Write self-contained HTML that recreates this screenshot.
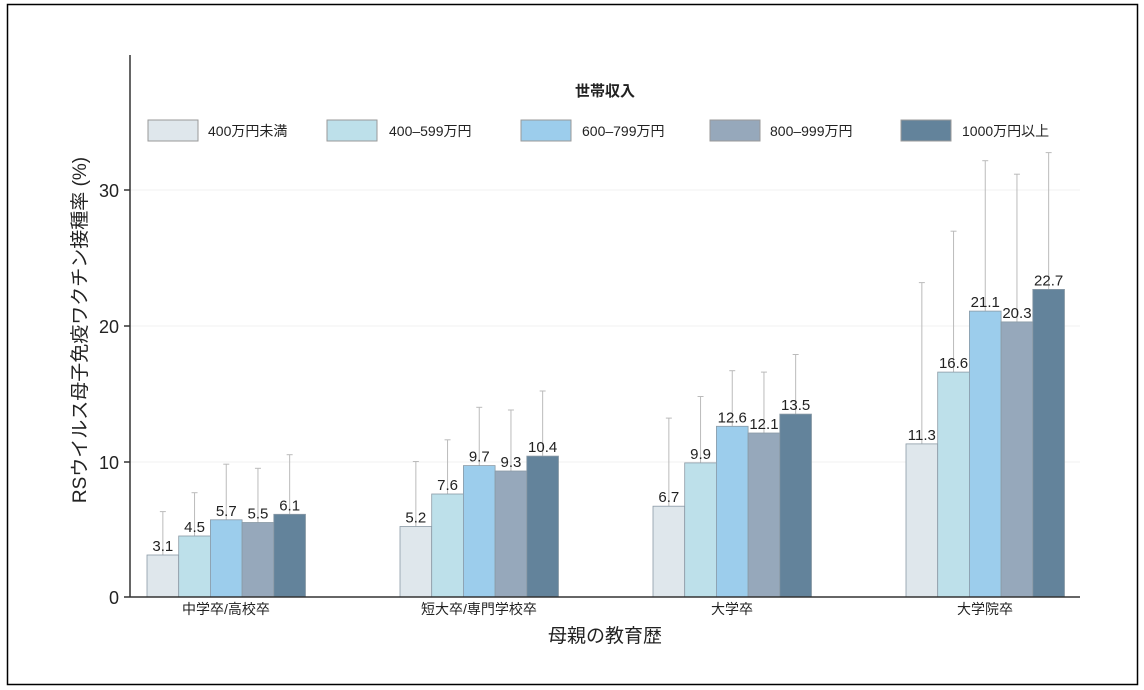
<!DOCTYPE html><html><head><meta charset="utf-8"><style>body{margin:0;background:#fff}svg{display:block;font-family:"Liberation Sans","Noto Sans CJK JP",sans-serif}</style></head><body>
<svg width="1144" height="690" xmlns="http://www.w3.org/2000/svg">
<rect x="7.5" y="4.5" width="1130" height="680" fill="#fff" stroke="#000" stroke-width="1.5"/>
<g stroke="#f0f0f0" stroke-width="1"><line x1="130" x2="1080" y1="190" y2="190"/><line x1="130" x2="1080" y1="326" y2="326"/><line x1="130" x2="1080" y1="462" y2="462"/></g>
<g stroke="#bbb" stroke-width="1">
<line x1="162.85" x2="162.85" y1="511.6" y2="555"/><line x1="159.85" x2="165.85" y1="511.6" y2="511.6"/>
<line x1="194.55" x2="194.55" y1="492.7" y2="536"/><line x1="191.55" x2="197.55" y1="492.7" y2="492.7"/>
<line x1="226.25" x2="226.25" y1="464.2" y2="519.8"/><line x1="223.25" x2="229.25" y1="464.2" y2="464.2"/>
<line x1="257.95" x2="257.95" y1="468.3" y2="522.5"/><line x1="254.95" x2="260.95" y1="468.3" y2="468.3"/>
<line x1="289.65" x2="289.65" y1="454.7" y2="514.3"/><line x1="286.65" x2="292.65" y1="454.7" y2="454.7"/>
<line x1="415.85" x2="415.85" y1="461.5" y2="526.5"/><line x1="412.85" x2="418.85" y1="461.5" y2="461.5"/>
<line x1="447.55" x2="447.55" y1="439.8" y2="494"/><line x1="444.55" x2="450.55" y1="439.8" y2="439.8"/>
<line x1="479.25" x2="479.25" y1="407.3" y2="465.6"/><line x1="476.25" x2="482.25" y1="407.3" y2="407.3"/>
<line x1="510.95" x2="510.95" y1="410" y2="471"/><line x1="507.95" x2="513.95" y1="410" y2="410"/>
<line x1="542.65" x2="542.65" y1="391" y2="456.1"/><line x1="539.65" x2="545.65" y1="391" y2="391"/>
<line x1="668.85" x2="668.85" y1="418.1" y2="506.2"/><line x1="665.85" x2="671.85" y1="418.1" y2="418.1"/>
<line x1="700.55" x2="700.55" y1="396.5" y2="462.9"/><line x1="697.55" x2="703.55" y1="396.5" y2="396.5"/>
<line x1="732.25" x2="732.25" y1="370.7" y2="426.3"/><line x1="729.25" x2="735.25" y1="370.7" y2="370.7"/>
<line x1="763.95" x2="763.95" y1="372.1" y2="433"/><line x1="760.95" x2="766.95" y1="372.1" y2="372.1"/>
<line x1="795.65" x2="795.65" y1="354.5" y2="414.1"/><line x1="792.65" x2="798.65" y1="354.5" y2="354.5"/>
<line x1="921.85" x2="921.85" y1="282.6" y2="443.9"/><line x1="918.85" x2="924.85" y1="282.6" y2="282.6"/>
<line x1="953.55" x2="953.55" y1="231.2" y2="372.1"/><line x1="950.55" x2="956.55" y1="231.2" y2="231.2"/>
<line x1="985.25" x2="985.25" y1="160.7" y2="311.1"/><line x1="982.25" x2="988.25" y1="160.7" y2="160.7"/>
<line x1="1016.95" x2="1016.95" y1="174.2" y2="321.9"/><line x1="1013.95" x2="1019.95" y1="174.2" y2="174.2"/>
<line x1="1048.65" x2="1048.65" y1="152.6" y2="289.4"/><line x1="1045.65" x2="1051.65" y1="152.6" y2="152.6"/>
</g>
<g stroke="#8a9aa6" stroke-width="0.8">
<rect x="147" y="555" width="31.7" height="42" fill="#dfe7ec"/>
<rect x="178.7" y="536" width="31.7" height="61" fill="#bde0ea"/>
<rect x="210.4" y="519.8" width="31.7" height="77.2" fill="#9ccdec"/>
<rect x="242.1" y="522.5" width="31.7" height="74.5" fill="#96a8bb"/>
<rect x="273.8" y="514.3" width="31.7" height="82.7" fill="#63839b"/>
<rect x="400" y="526.5" width="31.7" height="70.5" fill="#dfe7ec"/>
<rect x="431.7" y="494" width="31.7" height="103" fill="#bde0ea"/>
<rect x="463.4" y="465.6" width="31.7" height="131.4" fill="#9ccdec"/>
<rect x="495.1" y="471" width="31.7" height="126" fill="#96a8bb"/>
<rect x="526.8" y="456.1" width="31.7" height="140.9" fill="#63839b"/>
<rect x="653" y="506.2" width="31.7" height="90.8" fill="#dfe7ec"/>
<rect x="684.7" y="462.9" width="31.7" height="134.1" fill="#bde0ea"/>
<rect x="716.4" y="426.3" width="31.7" height="170.7" fill="#9ccdec"/>
<rect x="748.1" y="433" width="31.7" height="164" fill="#96a8bb"/>
<rect x="779.8" y="414.1" width="31.7" height="182.9" fill="#63839b"/>
<rect x="906" y="443.9" width="31.7" height="153.1" fill="#dfe7ec"/>
<rect x="937.7" y="372.1" width="31.7" height="224.9" fill="#bde0ea"/>
<rect x="969.4" y="311.1" width="31.7" height="285.9" fill="#9ccdec"/>
<rect x="1001.1" y="321.9" width="31.7" height="275.1" fill="#96a8bb"/>
<rect x="1032.8" y="289.4" width="31.7" height="307.6" fill="#63839b"/>
</g>
<g font-size="15" text-anchor="middle" fill="#222">
<text x="162.85" y="551">3.1</text><text x="194.55" y="532">4.5</text><text x="226.25" y="515.8">5.7</text><text x="257.95" y="518.5">5.5</text><text x="289.65" y="510.3">6.1</text>
<text x="415.85" y="522.5">5.2</text><text x="447.55" y="490">7.6</text><text x="479.25" y="461.6">9.7</text><text x="510.95" y="467">9.3</text><text x="542.65" y="452.1">10.4</text>
<text x="668.85" y="502.2">6.7</text><text x="700.55" y="458.9">9.9</text><text x="732.25" y="422.3">12.6</text><text x="763.95" y="429">12.1</text><text x="795.65" y="410.1">13.5</text>
<text x="921.85" y="439.9">11.3</text><text x="953.55" y="368.1">16.6</text><text x="985.25" y="307.1">21.1</text><text x="1016.95" y="317.9">20.3</text><text x="1048.65" y="285.4">22.7</text>
</g>
<line x1="130" y1="55" x2="130" y2="597" stroke="#333" stroke-width="1.5"/>
<line x1="130" y1="597" x2="1080" y2="597" stroke="#333" stroke-width="1.5"/>
<g stroke="#333" stroke-width="1.5"><line x1="124" x2="130" y1="597" y2="597"/><line x1="124" x2="130" y1="462" y2="462"/><line x1="124" x2="130" y1="326" y2="326"/><line x1="124" x2="130" y1="190" y2="190"/></g>
<g font-size="18" text-anchor="end" fill="#222"><text x="119" y="604">0</text><text x="119" y="469">10</text><text x="119" y="333">20</text><text x="119" y="197">30</text></g>
<text transform="translate(86,330) rotate(-90)" font-size="19" text-anchor="middle" fill="#222">RSウイルス母子免疫ワクチン接種率 (%)</text>
<g font-size="14" text-anchor="middle" fill="#222"><text x="226" y="614">中学卒/高校卒</text><text x="479" y="614">短大卒/専門学校卒</text><text x="732" y="614">大学卒</text><text x="985" y="614">大学院卒</text></g>
<text x="605" y="642" font-size="19" text-anchor="middle" fill="#222">母親の教育歴</text>
<text x="605" y="96" font-size="15" font-weight="bold" text-anchor="middle" fill="#222">世帯収入</text>
<g stroke="#999" stroke-width="1"><rect x="148" y="120" width="50" height="21" fill="#dfe7ec"/><rect x="327" y="120" width="50" height="21" fill="#bde0ea"/><rect x="521" y="120" width="50" height="21" fill="#9ccdec"/><rect x="710" y="120" width="50" height="21" fill="#96a8bb"/><rect x="901" y="120" width="50" height="21" fill="#63839b"/></g>
<g font-size="14" fill="#222"><text x="208" y="136">400万円未満</text><text x="389" y="136">400–599万円</text><text x="582" y="136">600–799万円</text><text x="770" y="136">800–999万円</text><text x="962" y="136">1000万円以上</text></g>
</svg></body></html>
